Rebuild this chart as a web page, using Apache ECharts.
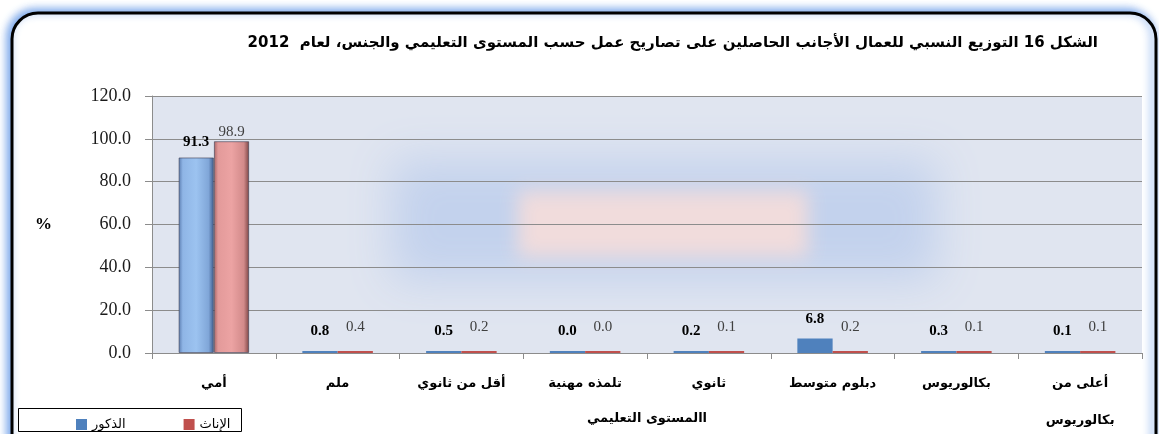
<!DOCTYPE html>
<html><head><meta charset="utf-8">
<script src="https://cdn.jsdelivr.net/npm/echarts@6/dist/echarts.min.js"></script>
<style>html,body{margin:0;padding:0;background:#fff}#c{width:1159px;height:434px}</style>
</head><body><div id="c"></div>
<script>
const categories = ['أمي', 'ملم', 'أقل من ثانوي', 'تلمذه مهنية', 'ثانوي', 'دبلوم متوسط', 'بكالوريوس', 'أعلى من\nبكالوريوس'];
const males = [91.3, 0.8, 0.5, 0.0, 0.2, 6.8, 0.3, 0.1];
const females = [98.9, 0.4, 0.2, 0.0, 0.1, 0.2, 0.1, 0.1];
const yTicks = [0, 20, 40, 60, 80, 100, 120];
const seriesNames = ['الذكور', 'الإناث'];
const titleText = 'الشكل 16 التوزيع النسبي للعمال الأجانب الحاصلين على تصاريح عمل حسب المستوى التعليمي والجنس، لعام  2012';
const xAxisTitle = 'االمستوى التعليمي';

const FONT = '"Liberation Serif", "DejaVu Sans", serif';
const AR = '"DejaVu Sans", "Liberation Serif", serif';

function grad(stops) {
  return new echarts.graphic.LinearGradient(0, 0, 1, 0, stops.map(c => ({offset: c[0], color: c[1]})));
}
const blueBig = grad([[0, '#5a7cb0'], [0.12, '#8fb5e6'], [0.5, '#9cc3f0'], [0.85, '#80a6d8'], [1, '#3d5c8c']]);
const redBig = grad([[0, '#a86464'], [0.12, '#e39a9a'], [0.5, '#eca3a3'], [0.85, '#d28a8a'], [1, '#7a4444']]);

function build(vals, big, flat, dBig, dSmall) {
  return vals.map(v => v > 50
    ? {value: v, itemStyle: {color: big, borderColor: 'rgba(60,60,80,0.6)', borderWidth: 1}, label: {distance: dBig}}
    : {value: v, itemStyle: {color: flat}, label: {distance: dSmall}});
}

// soft decorative glow: shapes drawn off-canvas, only their blurred shadow lands in the plot
const OFF = 3000;
function blurRect(x, y, w, h, color, blur, z) {
  return {type: 'rect', z: z, silent: true, shape: {x: x - OFF, y: y, width: w, height: h},
    style: {fill: color, shadowColor: color, shadowBlur: blur, shadowOffsetX: OFF, shadowOffsetY: 0}};
}

const chart = echarts.init(document.getElementById('c'), null, {renderer: 'canvas'});
chart.setOption({
  animation: false,
  backgroundColor: '#ffffff',
  textStyle: {fontFamily: FONT},
  graphic: [
    {type: 'rect', z: -10, silent: true, shape: {x: 12, y: 13, width: 1144, height: 450, r: 26},
     style: {fill: '#fff', stroke: '#000', lineWidth: 3, shadowColor: 'rgba(90,145,230,0.9)', shadowBlur: 8, shadowOffsetX: -3, shadowOffsetY: -2}},
    {type: 'rect', z: -9, silent: true, shape: {x: 152, y: 96, width: 990, height: 257}, style: {fill: '#e0e5f0'}},
    blurRect(392, 160, 545, 120, '#c3d2ed', 45, -8),
    blurRect(518, 191, 290, 66, '#f1dcdc', 18, -7),
    {type: 'text', z: 5, right: 61, top: 36, style: {text: titleText, fontFamily: AR, fontSize: 15, fontWeight: 'bold', fill: '#000'}},
    {type: 'rect', z: 5, silent: true, shape: {x: 18.5, y: 408.5, width: 223, height: 23}, style: {fill: '#fff', stroke: '#000', lineWidth: 1}}
  ],
  legend: {
    left: 71, top: 413, itemWidth: 11, itemHeight: 11, itemGap: 58, z: 10,
    data: seriesNames,
    textStyle: {fontFamily: AR, fontSize: 13, color: '#000'},
    icon: 'rect'
  },
  grid: {left: 152, right: 17, top: 96, bottom: 81, containLabel: false, outerBoundsMode: 'none'},
  xAxis: {
    type: 'category', data: categories, z: 3,
    name: xAxisTitle, nameLocation: 'middle', nameGap: 59, nameMoveOverlap: false,
    nameTextStyle: {fontFamily: AR, fontSize: 13, fontWeight: 'bold', color: '#000'},
    axisLine: {lineStyle: {color: '#8c8c8c'}},
    axisTick: {show: true, length: 6, lineStyle: {color: '#8c8c8c'}},
    axisLabel: {interval: 0, fontFamily: AR, fontSize: 13, fontWeight: 'bold', color: '#000', lineHeight: 37, margin: 12}
  },
  yAxis: {
    type: 'value', min: 0, max: 120, interval: 20, z: 3,
    name: '%', nameLocation: 'middle', nameGap: 100, nameRotate: 0, nameMoveOverlap: false,
    nameTextStyle: {fontFamily: FONT, fontSize: 17, fontWeight: 'bold', color: '#000'},
    axisLine: {show: true, lineStyle: {color: '#8c8c8c'}},
    axisTick: {show: true, length: 7, lineStyle: {color: '#8c8c8c'}},
    axisLabel: {margin: 21, fontFamily: FONT, fontSize: 18, color: '#1a1a1a', formatter: v => yTicks.includes(v) ? v.toFixed(1) : ''},
    splitLine: {show: true, lineStyle: {color: '#8c8c8c', width: 1}}
  },
  series: [
    {name: seriesNames[0], type: 'bar', z: 4, barGap: '0%', barCategoryGap: '43%', barMinHeight: 2,
     itemStyle: {color: '#4f81bd'},
     data: build(males, blueBig, '#4f81bd', 8, 12),
     label: {show: true, position: 'top', formatter: p => p.value.toFixed(1), fontFamily: FONT, fontSize: 15, fontWeight: 'bold', color: '#000'}},
    {name: seriesNames[1], type: 'bar', z: 4, barMinHeight: 2,
     itemStyle: {color: '#c0504d'},
     data: build(females, redBig, '#c0504d', 2, 16),
     label: {show: true, position: 'top', formatter: p => p.value.toFixed(1), fontFamily: FONT, fontSize: 15, color: '#404040'}}
  ]
});
</script></body></html>
